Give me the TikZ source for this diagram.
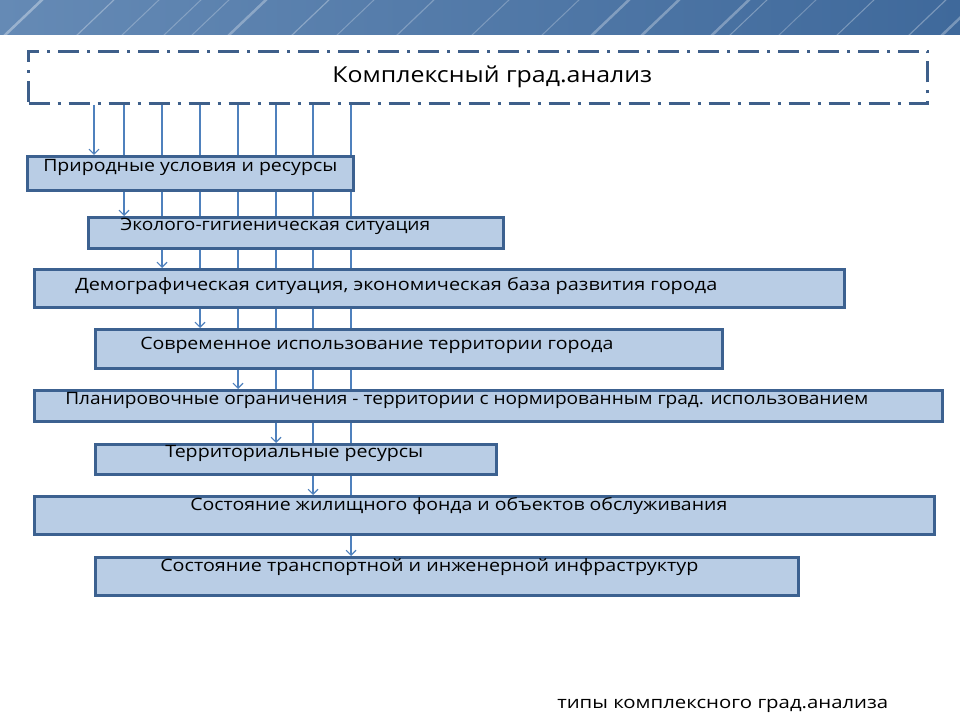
\documentclass[tikz,border=0pt]{standalone}
\usepackage{fontspec}
\setmainfont{Open Sans}
\usetikzlibrary{arrows.meta,shadows}
\newlength\px \setlength\px{0.75pt}
\newcommand\fitw[2]{\resizebox{#1\px}{\height}{#2}}
\definecolor{boxfill}{HTML}{B9CDE5}
\definecolor{boxline}{HTML}{3C6190}
\definecolor{arrowc}{HTML}{4F81BD}
\definecolor{dashc}{HTML}{3E5F8A}
\definecolor{banL}{HTML}{658AB5}
\definecolor{banR}{HTML}{3F699B}
\pgfdeclarelayer{background}
\pgfsetlayers{background,main}
\begin{document}
\begin{tikzpicture}[x=0.75pt,y=-0.75pt,
  stepbox/.style={draw=boxline, line width=2.25pt, fill=boxfill, inner sep=0pt, anchor=north west,
    drop shadow={shadow xshift=1.1pt, shadow yshift=-1.1pt, opacity=0.25}},
  txt/.style={inner sep=0pt, anchor=west, font=\fontsize{12.75}{15}\selectfont, text=black},
  conn/.style={draw=arrowc, line width=0.8pt, -{Straight Barb[length=3.75pt,width=7.5pt]}},
  streak/.style={draw=white, line cap=round}]
\begin{pgfonlayer}{background}
\fill[white] (0,0) rectangle (960,720);
\end{pgfonlayer}
\useasboundingbox (0,0) rectangle (960,720);
% banner
\shade[left color=banL, right color=banR] (0,0) rectangle (960,35);
\begin{scope}
\clip (0,0) rectangle (960,35);
\foreach \xx/\w/\o in {3/1.9/0.35, 75/0.9/0.3, 120/0.75/0.25, 162/0.75/0.25, 190/0.75/0.25, 227/1.9/0.3, 290/0.9/0.3,
  335/0.75/0.25, 395/0.9/0.25, 470/0.75/0.25, 540/0.75/0.25, 590/1.9/0.3,
  640/1.9/0.3, 710/1.9/0.3, 728/0.75/0.3, 777/0.75/0.25, 835/0.75/0.3, 907/0.9/0.3, 940/1.9/0.3}
  \draw[streak, line width=\w pt, opacity=\o] (\xx,37) -- ++(42,-40);
\end{scope}
% title box
\node[draw=dashc, line width=2.25pt, dash pattern=on 15.75pt off 6pt on 2.25pt off 6pt,
  minimum width=674.25pt, minimum height=39pt, inner sep=0pt, anchor=north west] (tb) at (27,50) {};
\node[inner sep=0pt, anchor=west, font=\fontsize{16.5}{19}\selectfont] (t0) at (332,77) {\fitw{320}{Комплексный град.анализ}};
% boxes
\node[stepbox, minimum width=244.5pt, minimum height=25.5pt] (b1) at (26,155) {};
\node[stepbox, minimum width=311.25pt, minimum height=23.25pt] (b2) at (87,216) {};
\node[stepbox, minimum width=607.5pt, minimum height=28.5pt] (b3) at (33,268) {};
\node[stepbox, minimum width=470.25pt, minimum height=29.25pt] (b4) at (94,328) {};
\node[stepbox, minimum width=681pt, minimum height=23.25pt] (b5) at (33,389) {};
\node[stepbox, minimum width=300.75pt, minimum height=22.5pt] (b6) at (94,443) {};
\node[stepbox, minimum width=675pt, minimum height=28.5pt] (b7) at (33,495) {};
\node[stepbox, minimum width=527.25pt, minimum height=28.5pt] (b8) at (94,556) {};
% texts
\node[txt] (t1) at (43,167) {\fitw{294}{Природные условия и ресурсы}};
\node[txt] (t2) at (120,226) {\fitw{310}{Эколого-гигиеническая ситуация}};
\node[txt] (t3) at (75,286) {\fitw{642}{Демографическая ситуация, экономическая база развития города}};
\node[txt] (t4) at (140,345) {\fitw{473}{Современное использование территории города}};
\node[txt] (t5) at (65,400) {\fitw{803}{Планировочные ограничения - территории с нормированным град. использованием}};
\node[txt] (t6) at (165,453) {\fitw{258}{Территориальные ресурсы}};
\node[txt] (t7) at (190,506) {\fitw{537}{Состояние жилищного фонда и объектов обслуживания}};
\node[txt] (t8) at (160,567) {\fitw{538}{Состояние транспортной и инженерной инфраструктур}};
\node[txt] (tf) at (557,706) {\fitw{331}{типы комплексного град.анализа}};
% connectors
\begin{pgfonlayer}{background}
\foreach \i/\xx in {1/94,2/124,3/162,4/200,5/238,6/276,7/313,8/351}{
  \coordinate (c\i) at (\xx,0);
  \draw[conn] (tb.south -| c\i) -- (b\i.north -| c\i);
}
\end{pgfonlayer}
\end{tikzpicture}
\end{document}
